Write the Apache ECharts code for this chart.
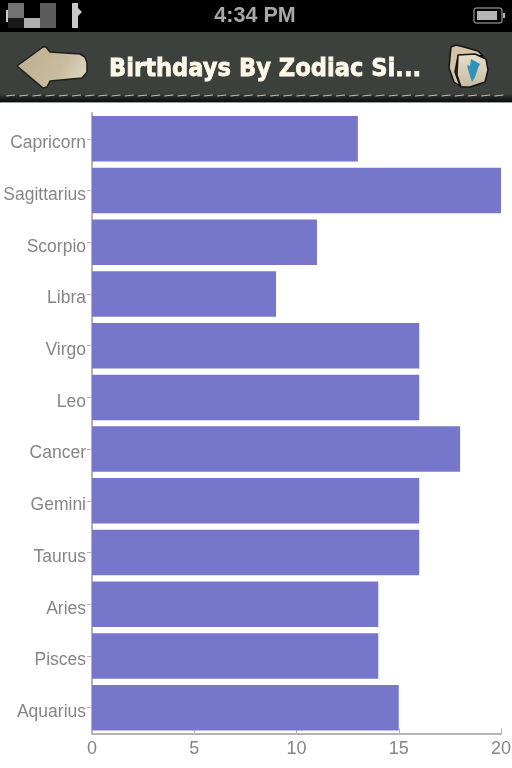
<!DOCTYPE html>
<html><head><meta charset="utf-8">
<style>html,body{margin:0;padding:0;background:#fff}#c{width:512px;height:768px}</style>
<script src="https://cdn.jsdelivr.net/npm/echarts@6/dist/echarts.min.js"></script>
</head><body><div id="c"></div>
<script>
const categories = ['Aquarius','Pisces','Aries','Taurus','Gemini','Cancer','Leo','Virgo','Libra','Scorpio','Sagittarius','Capricorn'];
const birthdays = [15,14,14,16,16,18,16,16,9,11,20,13];
const timeText = '4:34 PM';
const titleText = 'Birthdays By Zodiac Si...';

const chart = echarts.init(document.getElementById('c'), null, {renderer:'canvas'});
const r = (x,y,w,h,fill,z=1)=>({type:'rect',shape:{x,y,width:w,height:h},style:{fill},z});
const stitches = [];
for(let x=6;x<506;x+=13.2){stitches.push({type:'line',shape:{x1:x,y1:96,x2:x+9,y2:95},style:{stroke:'#c8c1b2',lineWidth:1},z:3});}
const axisColor = '#b4b4b4', labelColor = '#858585';
chart.setOption({
  animation:false,
  grid:{left:92,right:11,top:113,bottom:34.5,containLabel:false,outerBoundsMode:'none'},
  xAxis:{type:'value',min:0,max:20,interval:5,
    axisLine:{show:true,lineStyle:{color:axisColor,width:2}},
    axisTick:{show:true,length:5,inside:true,lineStyle:{color:axisColor,width:1}},
    splitLine:{show:false},
    axisLabel:{color:labelColor,fontSize:18,fontFamily:'Liberation Sans',margin:7}},
  yAxis:{type:'category',data:categories,
    axisLine:{show:true,onZero:false,lineStyle:{color:axisColor,width:2}},
    axisTick:{show:true,alignWithLabel:true,length:5,lineStyle:{color:axisColor,width:1}},
    axisLabel:{color:labelColor,fontSize:17.5,fontFamily:'Liberation Sans',margin:6,verticalAlign:'top',lineHeight:9}},
  series:[{type:'bar',data:birthdays,barWidth:45.5,itemStyle:{color:'#7676cb'},silent:true}],
  graphic:{elements:[
    r(0,0,512,32,'#000'),
    r(0,32,512,70,{type:'linear',x:0,y:0,x2:0,y2:1,colorStops:[{offset:0,color:'#3d423f'},{offset:.88,color:'#3b403d'},{offset:.95,color:'#1c1e1d'},{offset:1,color:'#0c0c0c'}]}),
    r(0,102,512,1,'#9a9a9a'),
    r(8,3,16,15,'#737373',2),r(8,18,16,10,'#1a1a1a',2),r(24,18,16,10,'#b0b0b0',2),r(40,3,16,25,'#5c5c5c',2),
    r(6,10,2,12,'#c8c8c8',2),r(72,3,6,25,'#c8c8c8',2),
    {type:'polygon',shape:{points:[[78,8],[82,12],[78,16]]},style:{fill:'#c8c8c8'},z:2},
    {type:'text',style:{text:timeText,x:255,y:16,align:'center',verticalAlign:'middle',fill:'#a8a8a8',font:'bold 21.5px "Liberation Sans"'},z:3},
    {type:'rect',shape:{x:474,y:8,width:28,height:15,r:2},style:{fill:'none',stroke:'#b5b5b5',lineWidth:1},z:3},
    r(477,11,20,9,'#b5b5b5',3), r(503,13,2,5,'#b5b5b5',3),
    {type:'polygon',shape:{points:[[17,66],[43,47],[46,47],[50,52],[80,54],[85,57],[87,63],[87,72],[82,78],[50,81],[47,87],[43,88]]},style:{fill:{type:'linear',x:0,y:0,x2:1,y2:1,colorStops:[{offset:0,color:'#bfae8f'},{offset:.6,color:'#c9bb9f'},{offset:1,color:'#e6dfcd'}]},stroke:'#1d1f1d',lineWidth:1.5,lineJoin:'round'},z:3},
    {type:'text',style:{text:titleText,x:109,y:69,verticalAlign:'middle',fill:'#fcf7e8',stroke:'#fcf7e8',lineWidth:0.8,font:'bold 25px "DejaVu Sans"'},scaleX:0.905,originX:109,originY:69,z:3},
    {type:'polygon',shape:{points:[[451,47],[456,45],[464,47],[478,51],[483,56],[470,55],[458,56],[455,72],[460,86],[454,82],[449,68]]},style:{fill:'#d2c4a9',stroke:'#141414',lineWidth:1.5,lineJoin:'round'},z:3},
    {type:'polygon',shape:{points:[[458,55],[475,54],[486,59],[488,70],[485,82],[470,87],[461,87],[457,75]]},style:{fill:{type:'linear',x:0,y:0,x2:0,y2:1,colorStops:[{offset:0,color:'#e6dfcc'},{offset:1,color:'#c7baa2'}]},stroke:'#141414',lineWidth:1.5,lineJoin:'round'},z:4},
    {type:'polygon',shape:{points:[[471,59],[480,64],[478,68],[475,77],[472,82],[469,73],[467,65],[470,66]]},style:{fill:'#2d93bb'},z:5},
    ...stitches
  ]}
});
</script></body></html>
